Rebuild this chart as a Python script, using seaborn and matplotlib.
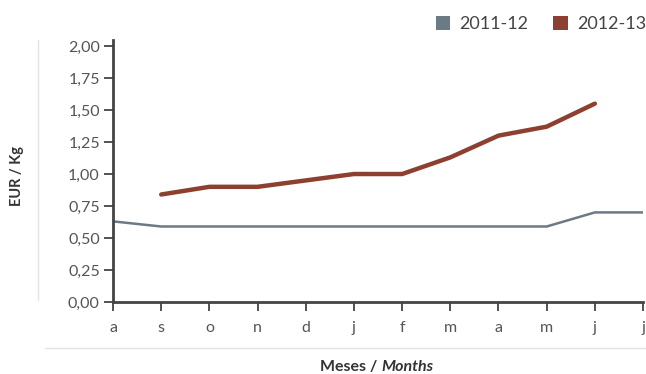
#!/usr/bin/env python3

import numpy as np
import pandas as pd
import matplotlib.pyplot as plt
from matplotlib.lines import Line2D
from matplotlib.patches import Patch
import seaborn as sns

sns.set_theme(style="white")
plt.rcParams['font.family'] = ['Lato', 'DejaVu Sans']

# data
months = ['a', 's', 'o', 'n', 'd', 'j', 'f', 'm', 'a', 'm', 'j', 'j']
price_2011_12 = [0.63, 0.59, 0.59, 0.59, 0.59, 0.59, 0.59, 0.59, 0.59, 0.59, 0.70, 0.70]
price_2012_13 = [np.nan, 0.84, 0.90, 0.90, 0.95, 1.00, 1.00, 1.13, 1.30, 1.37, 1.55, np.nan]
seasons = ['2011-12', '2012-13']
colors = {'2011-12': '#6b7b85', '2012-13': '#8e4030'}

df = pd.DataFrame({
    'pos': list(range(len(months))) * 2,
    'price': price_2011_12 + price_2012_13,
    'season': [seasons[0]] * len(months) + [seasons[1]] * len(months),
})
df = df.dropna()

fig = plt.figure(figsize=(6.46, 3.74), dpi=100)
ax = fig.add_axes([0.175, 0.1925, 0.8204, 0.7015])

sns.lineplot(data=df[df.season == '2011-12'], x='pos', y='price', color=colors['2011-12'],
             linewidth=1.8, ax=ax, legend=False)
sns.lineplot(data=df[df.season == '2012-13'], x='pos', y='price', color=colors['2012-13'],
             linewidth=3.2, ax=ax, legend=False)

ax.set_xlim(0, len(months) - 1)
ax.set_ylim(0, 2.05)
ax.set_xticks(range(len(months)))
ax.set_xticklabels(months)
yticks = np.arange(0, 2.01, 0.25)
ax.set_yticks(yticks)
ax.set_yticklabels([f'{v:.2f}'.replace('.', ',') for v in yticks])

for side in ['top', 'right']:
    ax.spines[side].set_visible(False)
for side in ['left', 'bottom']:
    ax.spines[side].set_color('#444444')
    ax.spines[side].set_linewidth(2)
ax.tick_params(axis='both', bottom=True, left=True, direction='out', length=6.5, width=1.3,
               color='#444444', labelcolor='#555555', labelsize=11.5)
ax.tick_params(axis='x', pad=7)
ax.tick_params(axis='y', pad=3)
ax.set_xlabel('')
ax.set_ylabel('')

fig.text(0.026, 0.53, 'EUR / Kg', rotation=90, ha='center', va='center',
         fontsize=10.5, fontweight='bold', color='#333333')
fig.text(0.59, 1 - 367 / 374, 'Meses / ', ha='right', va='center', fontsize=11.5,
         fontweight='bold', color='#333333')
fig.text(0.59, 1 - 367 / 374, 'Months', ha='left', va='center', fontsize=11.5,
         fontweight='bold', fontstyle='italic', color='#333333')

# light frame lines
fig.add_artist(Line2D([38 / 646, 38 / 646], [1 - 40 / 374, 1 - 300 / 374],
                      color='#e3e3e3', linewidth=1))
fig.add_artist(Line2D([45 / 646, 1.0], [1 - 348 / 374, 1 - 348 / 374],
                      color='#e3e3e3', linewidth=1))

handles = [Patch(facecolor=colors[s], edgecolor='none', label=s) for s in seasons]
fig.legend(handles=handles, loc='upper right', bbox_to_anchor=(1.025, 1.0), ncol=2,
           frameon=False, fontsize=13, handlelength=0.8, handleheight=0.8,
           handletextpad=0.5, columnspacing=1.4, labelcolor='#444444')

plt.savefig('out.png', dpi=100)
